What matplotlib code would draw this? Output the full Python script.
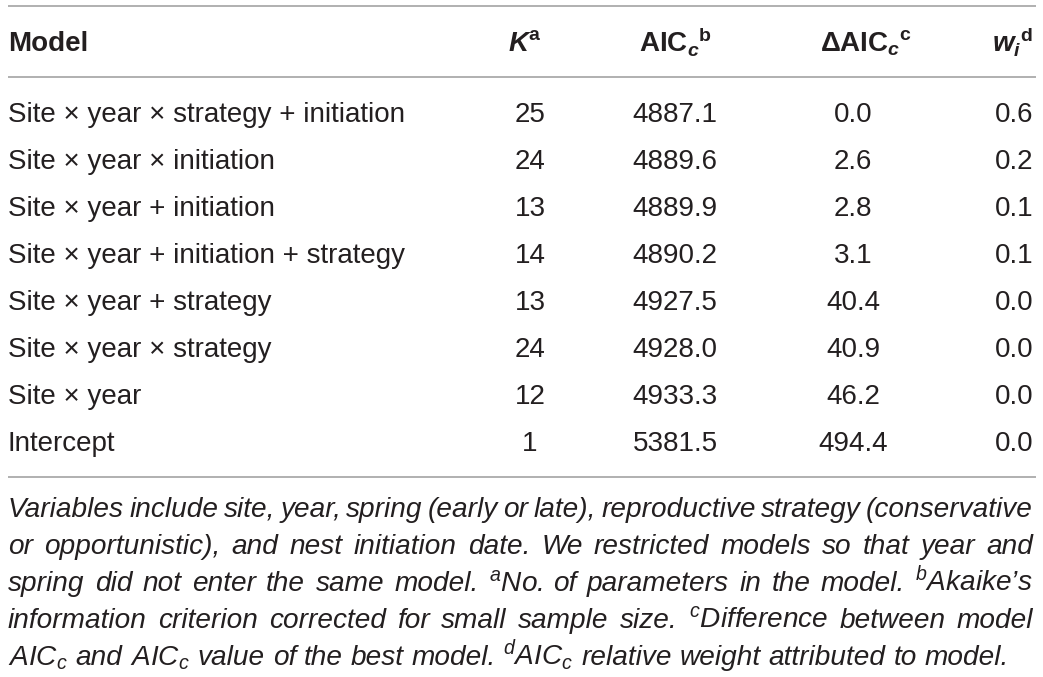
import matplotlib
matplotlib.use("Agg")
import matplotlib.pyplot as plt

W, H = 1043, 677
INK = "#231f20"
RULE = "#a3a3a3"

# table data
models = [
    "Site × year × strategy + initiation",
    "Site × year × initiation",
    "Site × year + initiation",
    "Site × year + initiation + strategy",
    "Site × year + strategy",
    "Site × year × strategy",
    "Site × year",
    "Intercept",
]
k_vals = [25, 24, 13, 14, 13, 24, 12, 1]
aic_vals = [4887.1, 4889.6, 4889.9, 4890.2, 4927.5, 4928.0, 4933.3, 5381.5]
delta_aic = [0.0, 2.6, 2.8, 3.1, 40.4, 40.9, 46.2, 494.4]
weights = [0.6, 0.2, 0.1, 0.1, 0.0, 0.0, 0.0, 0.0]

headers = [
    "Model",
    r"$\mathbfit{K}^{\mathbf{a}}$",
    r"${\mathbf{AIC}_{\mathbfit{c}}}^{\mathbf{b}}$",
    r"${\mathbf{ΔAIC}_{\mathbfit{c}}}^{\mathbf{c}}$",
    r"${\mathbfit{w}_{\mathbfit{i}}}^{\mathbf{d}}$",
]

footnote = [
    "Variables include site, year, spring (early or late), reproductive strategy (conservative",
    "or opportunistic), and nest initiation date. We restricted models so that year and",
    "spring did not enter the same model. $^{a}$No. of parameters in the model. $^{b}$Akaike’s",
    "information criterion corrected for small sample size. $^{c}$Difference between model",
    "AIC$_{c}$ and AIC$_{c}$ value of the best model. $^{d}$AIC$_{c}$ relative weight attributed to model.",
]

font = "Liberation Sans"
plt.rcParams["font.family"] = [font, "DejaVu Sans"]
plt.rcParams["mathtext.fontset"] = "custom"
plt.rcParams["mathtext.rm"] = font
plt.rcParams["mathtext.bf"] = font + ":bold"
plt.rcParams["mathtext.bfit"] = font + ":italic:bold"
plt.rcParams["mathtext.it"] = font + ":italic"

fig = plt.figure(figsize=(W / 100, H / 100), dpi=100)
ax = fig.add_axes([0, 0, 1, 1])
ax.set_xlim(0, W)
ax.set_ylim(H, 0)
ax.axis("off")

size = 20
foot_size = 20.2

# rules
for y in [6, 77, 477]:
    ax.plot([8, 1036], [y, y], color=RULE, lw=1.2, solid_capstyle="butt")

# header
hy = 51
ax.text(8, hy, headers[0], fontsize=size, fontweight="bold", color=INK, va="baseline", ha="left")
ax.text(525, hy, headers[1], fontsize=size, color=INK, va="baseline", ha="center")
ax.text(675, hy, headers[2], fontsize=size, color=INK, va="baseline", ha="center")
ax.text(866, hy, headers[3], fontsize=size, color=INK, va="baseline", ha="center")
ax.text(1033, hy, headers[4], fontsize=size, color=INK, va="baseline", ha="right")

# rows
for i in range(len(models)):
    y = 122 + 47 * i
    ax.text(8, y, models[i], fontsize=size, color=INK, va="baseline", ha="left")
    ax.text(530, y, str(k_vals[i]), fontsize=size, color=INK, va="baseline", ha="center")
    ax.text(675, y, f"{aic_vals[i]:.1f}", fontsize=size, color=INK, va="baseline", ha="center")
    ax.text(853, y, f"{delta_aic[i]:.1f}", fontsize=size, color=INK, va="baseline", ha="center")
    ax.text(1033, y, f"{weights[i]:.1f}", fontsize=size, color=INK, va="baseline", ha="right")

# footnote, justified word by word
renderer = fig.canvas.get_renderer()
left, right = 8, 1033
kw = dict(fontsize=foot_size, style="italic", color=INK, va="baseline", ha="left")
probe_a = ax.text(0, 0, "xx", **kw)
probe_b = ax.text(0, 0, "x x", **kw)
space = (probe_b.get_window_extent(renderer).width
         - probe_a.get_window_extent(renderer).width)
probe_a.remove()
probe_b.remove()

for n, line in enumerate(footnote):
    y = 517 + 37 * n
    words = line.split(" ")
    arts = [ax.text(0, y, w, **kw) for w in words]
    widths = [a.get_window_extent(renderer).width for a in arts]
    if n < len(footnote) - 1:
        gap = (right - left - sum(widths)) / (len(words) - 1)
    else:
        gap = space
    x = left
    for a, w in zip(arts, widths):
        a.set_x(x)
        x += w + gap

fig.savefig("out.png", dpi=100)
